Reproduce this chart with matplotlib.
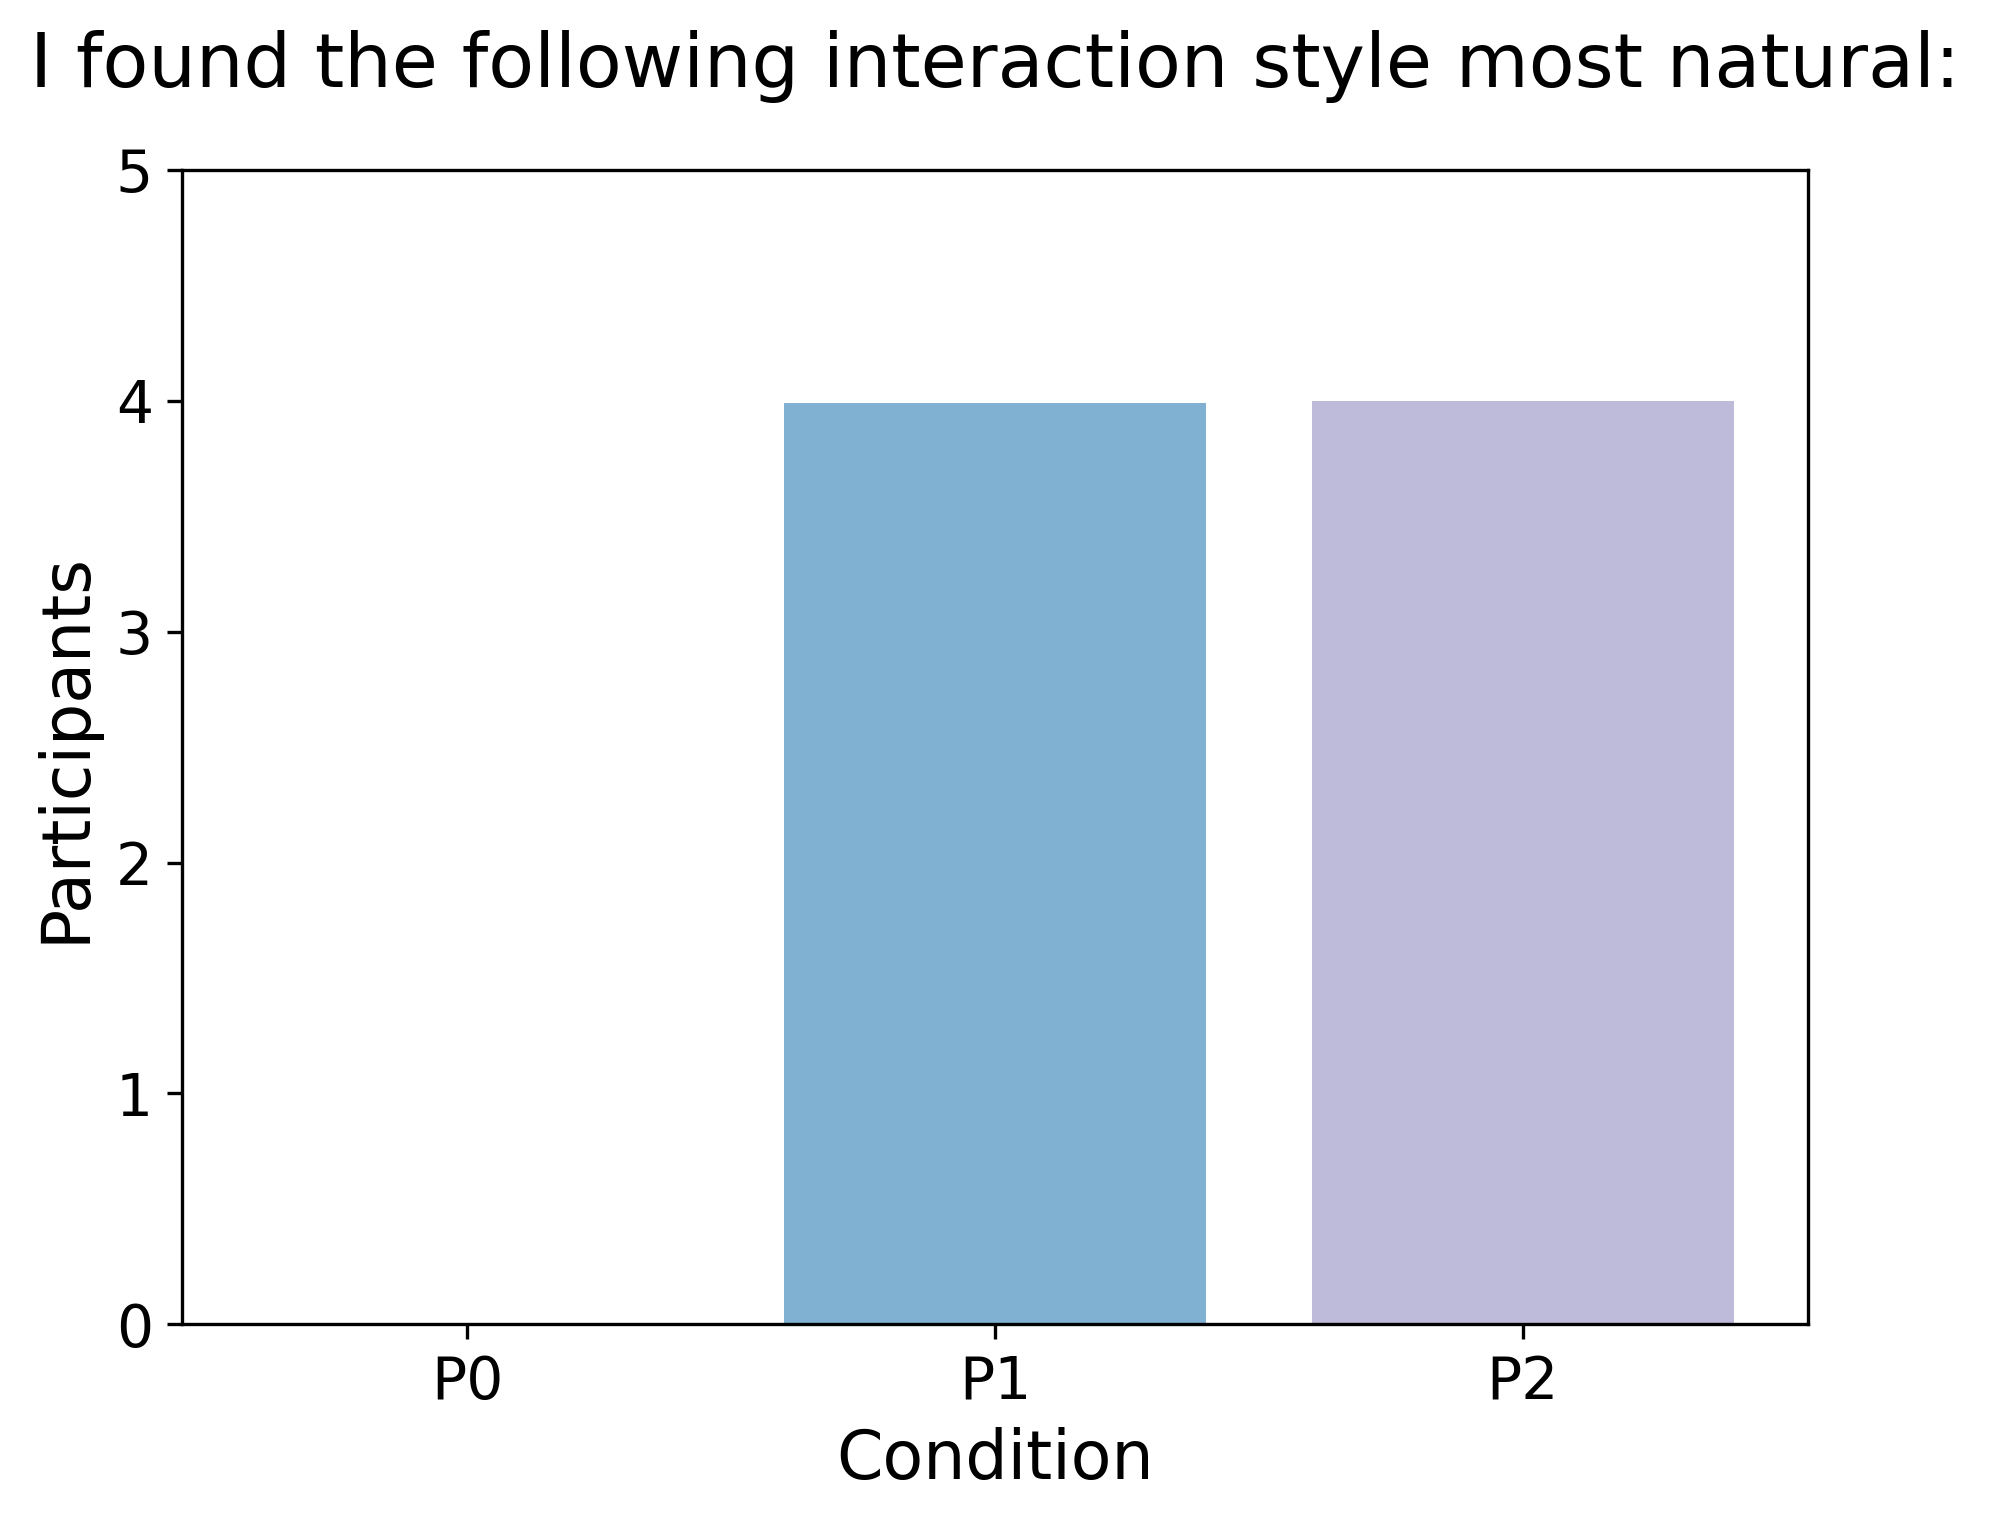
import matplotlib
matplotlib.use('Agg')
import matplotlib.pyplot as plt

# data
conditions = ['P0', 'P1', 'P2']
participants = [0, 3.99, 4]
bar_colors = ['#fb8072', '#80b1d3', '#bebada']

fig, ax = plt.subplots(figsize=(6.633, 5.08), dpi=300)
fig.subplots_adjust(left=0.0915, right=0.9085, top=0.8885, bottom=0.131)

ax.bar(conditions, participants, color=bar_colors, width=0.8)

ax.set_ylim(0, 5)
ax.set_title("I found the following interaction style most natural:", fontsize=18, pad=20)
ax.set_xlabel("Condition", fontsize=16)
ax.set_ylabel("Participants", fontsize=16)
ax.tick_params(axis='both', labelsize=14)

fig.savefig('out.png', dpi=300)
